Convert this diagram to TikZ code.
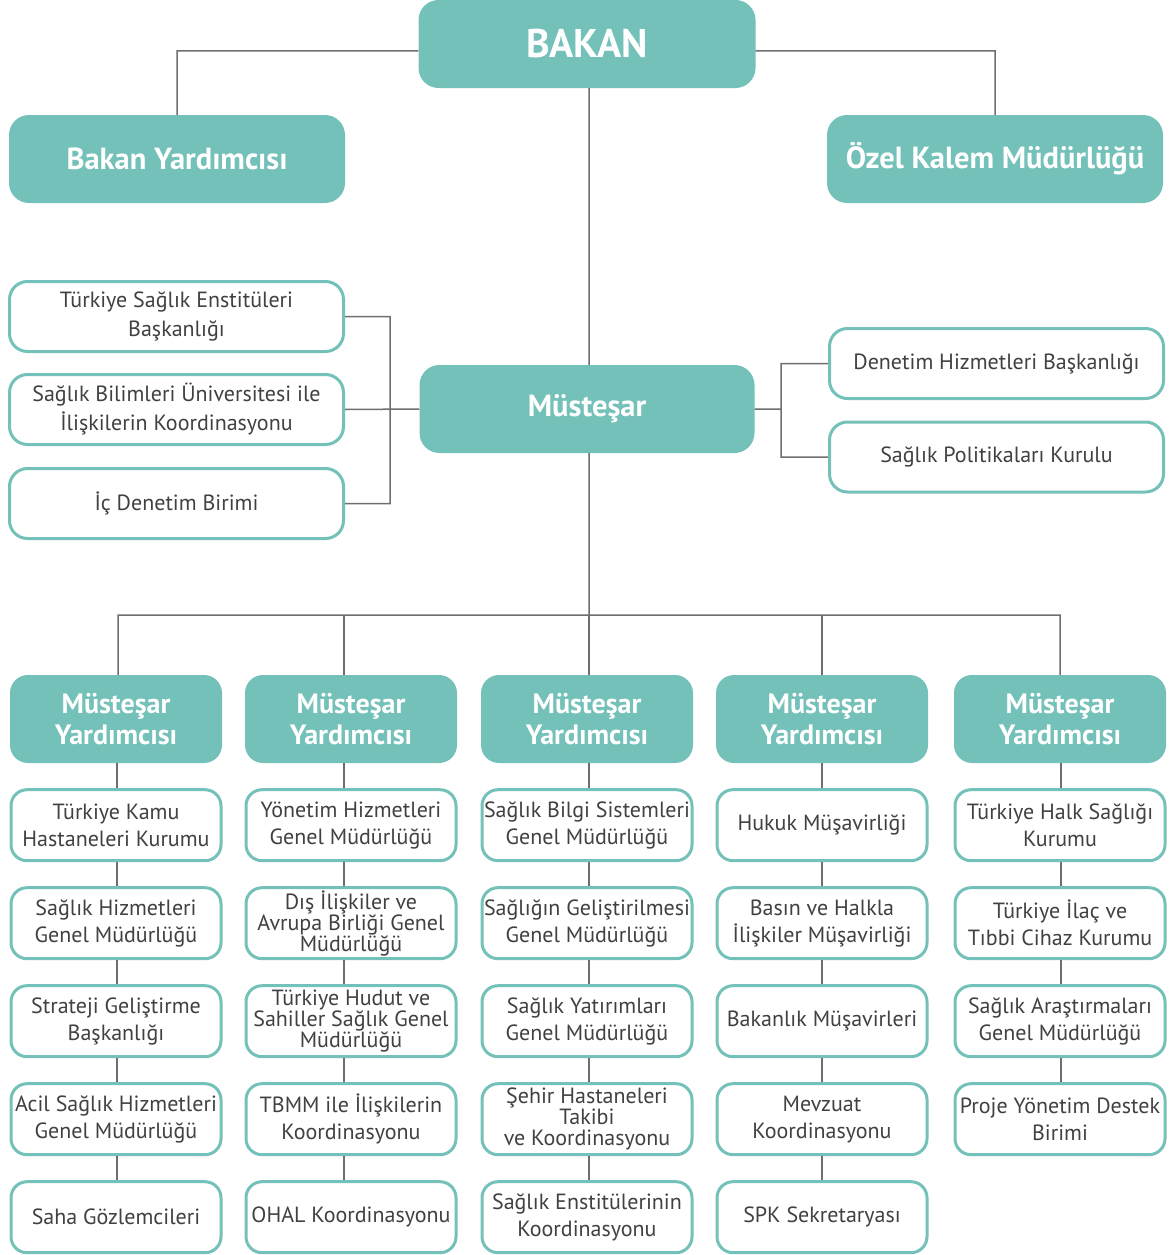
\documentclass[tikz,border=0pt]{standalone}
\usepackage{fontspec}
\setmainfont{PT Sans}
\usetikzlibrary{positioning}
\definecolor{tealbox}{RGB}{116,193,185}
\definecolor{txtgray}{RGB}{65,64,66}
\definecolor{lngray}{RGB}{109,110,113}
\tikzstyle{head} = [rectangle, fill=tealbox, text=white, align=center,
    font=\bfseries\fontsize{28}{31}\selectfont, rounded corners=18pt,
    minimum width=212pt, minimum height=88pt, inner sep=0pt]
\tikzstyle{top} = [font=\bfseries\fontsize{30.5}{34}\selectfont, rounded corners=20pt]
\tikzstyle{unit} = [rectangle, draw=tealbox, line width=3pt, fill=white,
    text=txtgray, align=center, font=\fontsize{22}{27}\selectfont,
    rounded corners=16pt, minimum width=210pt, minimum height=71pt, inner sep=0pt]
\tikzstyle{wide} = [minimum width=334pt, minimum height=70pt, rounded corners=18pt,
    font=\fontsize{22}{29}\selectfont]
\tikzstyle{tight} = [font=\fontsize{22}{21}\selectfont]
\tikzstyle{conn} = [draw=lngray, line width=1.5pt]

\begin{document}
\begin{tikzpicture}[x=1pt,y=-1pt,node distance=24pt]
  \useasboundingbox (0,0) rectangle (1170,1255);

  % top level
  \node[head,top,minimum width=337pt,font=\bfseries\fontsize{40}{44}\selectfont]
                      (bakan) at (587,44)  {BAKAN};
  \node[head,top,minimum width=336pt] (by)  at (177,159)  {Bakan Yardımcısı};
  \node[head,top,minimum width=336pt] (ozk) at (995,159)  {Özel Kalem Müdürlüğü};
  \node[head,top,minimum width=335pt] (mus) at (587,409)  {Müsteşar};

  % units beside the Müsteşar
  \node[unit,wide] (tse) at (176.5,316.5) {Türkiye Sağlık Enstitüleri\\Başkanlığı};
  \node[unit,wide] (sbu) at (176.5,409.5) {Sağlık Bilimleri Üniversitesi ile\\İlişkilerin Koordinasyonu};
  \node[unit,wide] (icd) at (176.5,503.5) {İç Denetim Birimi};
  \node[unit,wide] (dhb) at (996.5,363.5) {Denetim Hizmetleri Başkanlığı};
  \node[unit,wide] (spk) at (996.5,457)   {Sağlık Politikaları Kurulu};

  \coordinate (lj)  at (390,409);
  \coordinate (rj)  at (781,409);
  \coordinate (bus) at (589,615);

  % Müsteşar Yardımcıları
  \node[head] (my1) at (116,719)  {Müsteşar\\Yardımcısı};
  \node[head] (my2) at (351,719)  {Müsteşar\\Yardımcısı};
  \node[head] (my3) at (587,719)  {Müsteşar\\Yardımcısı};
  \node[head] (my4) at (822,719)  {Müsteşar\\Yardımcısı};
  \node[head] (my5) at (1060,719) {Müsteşar\\Yardımcısı};

  % column 1
  \node[unit] (c11) [below=25pt of my1] {Türkiye Kamu\\Hastaneleri Kurumu};
  \node[unit] (c12) [below=of c11]     {Sağlık Hizmetleri\\Genel Müdürlüğü};
  \node[unit] (c13) [below=of c12]     {Strateji Geliştirme\\Başkanlığı};
  \node[unit] (c14) [below=of c13]     {Acil Sağlık Hizmetleri\\Genel Müdürlüğü};
  \node[unit] (c15) [below=of c14]     {Saha Gözlemcileri};

  % column 2
  \node[unit] (c21) [below=25pt of my2] {Yönetim Hizmetleri\\Genel Müdürlüğü};
  \node[unit,tight] (c22) [below=of c21] {Dış İlişkiler ve\\Avrupa Birliği Genel\\Müdürlüğü};
  \node[unit,tight] (c23) [below=of c22] {Türkiye Hudut ve\\Sahiller Sağlık Genel\\Müdürlüğü};
  \node[unit] (c24) [below=of c23]     {TBMM ile İlişkilerin\\Koordinasyonu};
  \node[unit] (c25) [below=of c24]     {OHAL Koordinasyonu};

  % column 3
  \node[unit] (c31) [below=25pt of my3] {Sağlık Bilgi Sistemleri\\Genel Müdürlüğü};
  \node[unit] (c32) [below=of c31]     {Sağlığın Geliştirilmesi\\Genel Müdürlüğü};
  \node[unit] (c33) [below=of c32]     {Sağlık Yatırımları\\Genel Müdürlüğü};
  \node[unit,tight] (c34) [below=of c33] {Şehir Hastaneleri\\Takibi\\ve Koordinasyonu};
  \node[unit] (c35) [below=of c34]     {Sağlık Enstitülerinin\\Koordinasyonu};

  % column 4
  \node[unit] (c41) [below=25pt of my4] {Hukuk Müşavirliği};
  \node[unit] (c42) [below=of c41]     {Basın ve Halkla\\İlişkiler Müşavirliği};
  \node[unit] (c43) [below=of c42]     {Bakanlık Müşavirleri};
  \node[unit] (c44) [below=of c43]     {Mevzuat\\Koordinasyonu};
  \node[unit] (c45) [below=of c44]     {SPK Sekretaryası};

  % column 5
  \node[unit] (c51) [below=25pt of my5] {Türkiye Halk Sağlığı\\Kurumu};
  \node[unit] (c52) [below=of c51]     {Türkiye İlaç ve\\Tıbbi Cihaz Kurumu};
  \node[unit] (c53) [below=of c52]     {Sağlık Araştırmaları\\Genel Müdürlüğü};
  \node[unit] (c54) [below=of c53]     {Proje Yönetim Destek\\Birimi};

  % connectors
  \path[conn] ([yshift=-7pt]bakan.west) -| (by.north)
              ([yshift=-7pt]bakan.east) -| (ozk.north)
              (bakan.south -| bus) -- (mus.north -| bus)
              (tse.east) -| (lj) |- (icd.east)
              (sbu.east) -- (mus.west)
              (dhb.west) -| (rj) |- (spk.west)
              (mus.east) -- (rj)
              (mus.south -| bus) -- (bus)
              ([xshift=2pt]my1.north) |- (bus) -| (my5.north);
  \foreach \i/\s in {2/-7,3/2,4/0}
    \draw[conn] ([xshift=\s pt]my\i.north) -- ([xshift=\s pt]my\i.north |- bus);
  \foreach \c/\s in {1/1,2/-7,3/2,4/0,5/1}
    \draw[conn] ([xshift=\s pt]my\c.south) -- ([xshift=\s pt]c\c1.north);
  \foreach \c/\a/\b/\s in {1/1/2/1,1/2/3/1,1/3/4/1,1/4/5/1,
                           2/1/2/-7,2/2/3/-7,2/3/4/-7,2/4/5/-7,
                           3/1/2/2,3/2/3/2,3/3/4/2,3/4/5/2,
                           4/1/2/0,4/2/3/0,4/3/4/0,4/4/5/0,
                           5/1/2/1,5/2/3/1,5/3/4/1}
    \draw[conn] ([xshift=\s pt]c\c\a.south) -- ([xshift=\s pt]c\c\b.north);
\end{tikzpicture}
\end{document}
